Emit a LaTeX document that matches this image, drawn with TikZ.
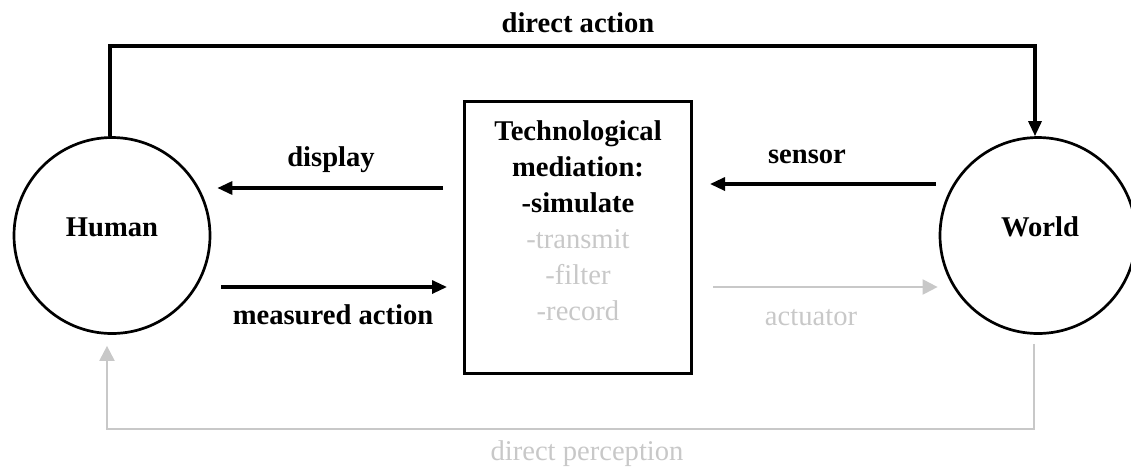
\documentclass[tikz,border=0pt]{standalone}
\usepackage{fontspec}
\setmainfont{Liberation Serif}
\usetikzlibrary{arrows.meta}
\definecolor{faded}{RGB}{200,200,200}

\begin{document}
\begin{tikzpicture}[x=0.5pt, y=-0.5pt, >={Triangle[length=7.5pt,width=6.5pt]},
    every node/.style={font=\fontsize{14.3}{18}\selectfont},
    agent/.style={draw, circle, line width=1.35pt, minimum size=98pt, inner sep=0pt},
    mediator/.style={draw, line width=1.7pt, minimum width=113.3pt, minimum height=135.8pt, inner sep=0pt},
    strong/.style={font=\fontsize{14.3}{18}\selectfont\bfseries},
    weak/.style={text=faded},
    link/.style={->, line width=1.6pt},
    faint link/.style={-{Triangle[length=7.5pt,width=7.5pt]}, line width=1pt, draw=faded}]

    \useasboundingbox (0,0) rectangle (1131,468);

    % Human, world and the mediating box
    \node[agent] (human) at (112,235.5) {};
    \node[agent] (world) at (1038,235.5) {};
    \node[mediator] (med) at (578,237.5) {};

    \node[strong] (humantext) at (112,227) {Human};
    \node[strong] (worldtext) at (1040,227) {World};
    \node[align=center] (medtext) at (578,221) {\textbf{Technological}\\\textbf{mediation:}\\\textbf{-simulate}\\
      \textcolor{faded}{-transmit}\\\textcolor{faded}{-filter}\\\textcolor{faded}{-record}};

    % Direct loop over the top and under the bottom
    \coordinate (top) at (578,46);
    \coordinate (bottom) at (578,429);
    \draw[link] ([xshift=-1pt]human.north) |- (top) -| ([xshift=-1.5pt]world.north);
    \draw[faint link, shorten <=4.5pt, shorten >=5.5pt]
      ([xshift=-2pt]world.south) |- (bottom) -| ([xshift=-2.5pt]human.south);
    \node[strong] (directaction) at (578,23) {direct action};
    \node[weak] (directperception) at (587,454) {direct perception};

    % Mediated arrows
    \draw[link, shorten <=10pt, shorten >=3pt] (med.west |- 0,188) -- (human.east |- 0,188);
    \draw[link, shorten <=5pt, shorten >=8pt] (human.east |- 0,287) -- (med.west |- 0,287);
    \draw[link, shorten <=1.5pt, shorten >=8.5pt] (world.west |- 0,184) -- (med.east |- 0,184);
    \draw[faint link, shorten <=10pt, shorten >=0.5pt] (med.east |- 0,287) -- (world.west |- 0,287);

    \node[strong] (display) at (331,160) {display};
    \node[strong] (measured) at (333,315) {measured action};
    \node[strong] (sensor) at (807,157) {sensor};
    \node[weak] (actuator) at (811,318) {actuator};
\end{tikzpicture}
\end{document}
